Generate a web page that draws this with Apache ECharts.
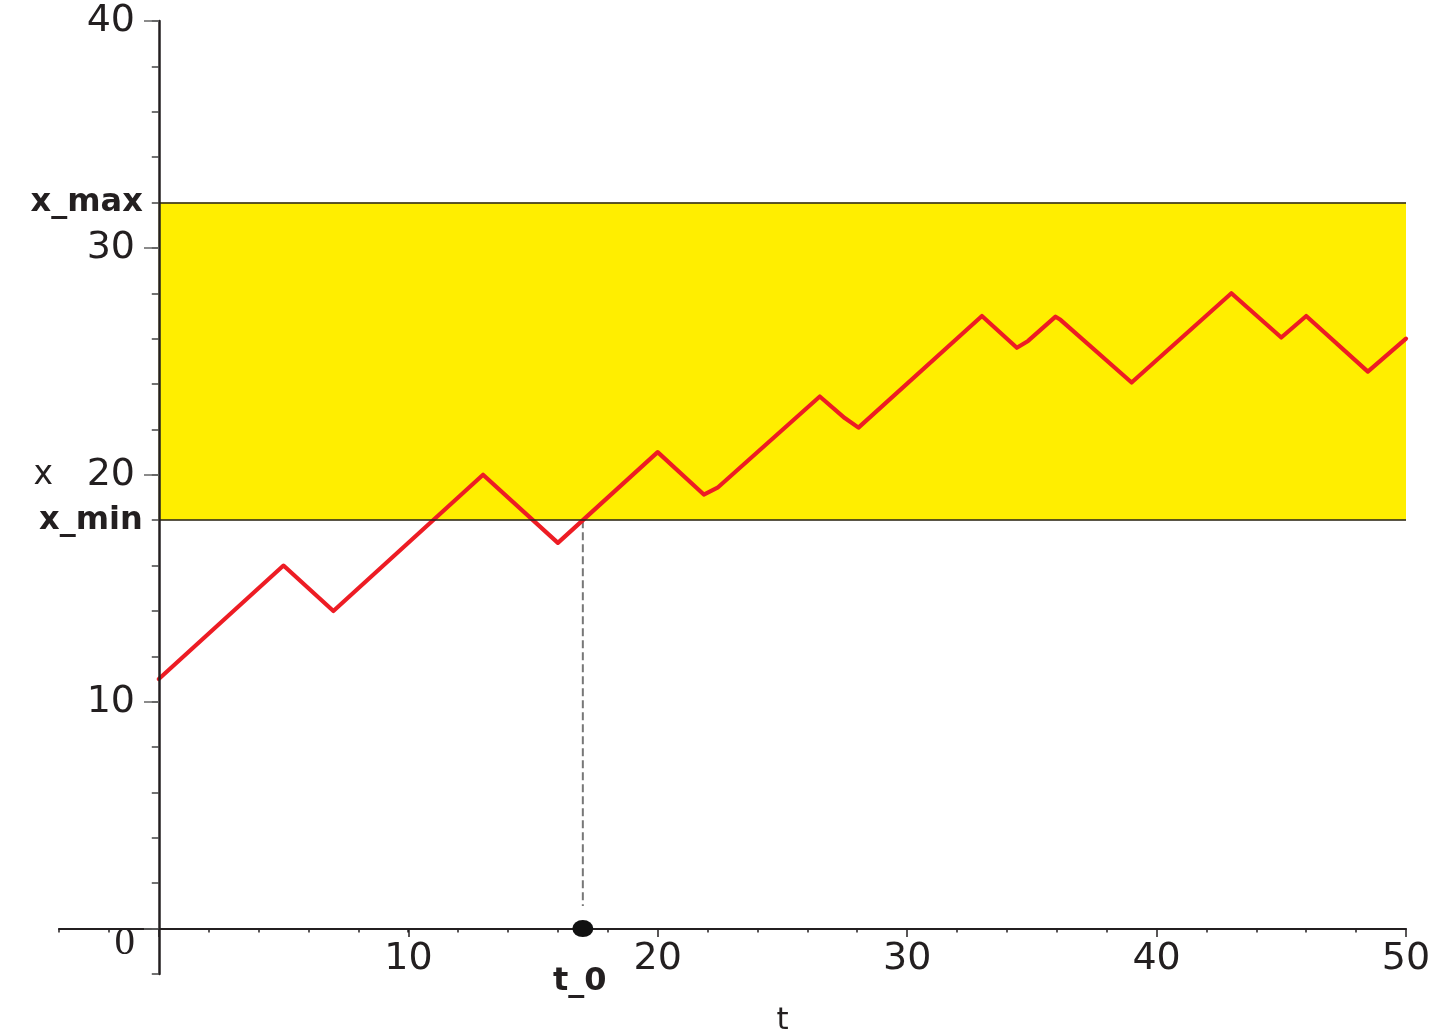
<!DOCTYPE html>
<html>
<head>
<meta charset="utf-8">
<script src="https://cdn.jsdelivr.net/npm/echarts@6/dist/echarts.min.js"></script>
<style>
html,body{margin:0;padding:0;background:#fff;}
#chart{width:1435px;height:1034px;}
</style>
</head>
<body>
<div id="chart"></div>
<script>
// ---- data ----
const tValues = [0, 5, 7, 13, 16, 20, 21.85, 22.4, 26.5, 27.5, 28.05, 33, 34.4, 34.85, 35.95, 36.15, 39, 43, 45, 46, 48.47, 50];
const xValues = [11, 16, 14, 20, 17, 21, 19.13, 19.43, 23.45, 22.5, 22.08, 27, 25.6, 25.9, 26.97, 26.83, 24.07, 28, 26.05, 27, 24.55, 26];
const xMin = 18;
const xMax = 32;
const t0 = 17;
const dashBottom = 1;
const tRange = [-4, 50];
const xRange = [-2, 40];
const bandLabels = ['x_min', 'x_max'];
const t0Label = 't_0';
const axisNames = {t: 't', x: 'x'};

const ink = '#231f20';
const curve = tValues.map((t, i) => [t, xValues[i]]);

const chart = echarts.init(document.getElementById('chart'), null, {renderer: 'canvas'});
const tickFont = {fontFamily: 'DejaVu Sans', fontSize: 38, color: ink};
const boldFont = {fontFamily: 'DejaVu Sans', fontWeight: 'bold', fontSize: 32, color: ink};

const option = {
  animation: false,
  backgroundColor: '#ffffff',
  grid: [
    {left: 59, right: 29, top: 21, bottom: 60, containLabel: false, outerBoundsMode: 'none'},
    {left: 159, right: 29, top: 21, bottom: 105, containLabel: false, outerBoundsMode: 'none'}
  ],
  xAxis: [
    {
      gridIndex: 0, type: 'value', min: tRange[0], max: tRange[1], interval: 2, z: 5,
      axisLine: {onZero: true, lineStyle: {color: ink, width: 2}},
      axisTick: {length: 4, lineStyle: {color: ink, width: 1.5}},
      axisLabel: {show: false}, splitLine: {show: false}
    },
    {
      gridIndex: 1, type: 'value', min: 0, max: tRange[1], interval: 10, z: 5,
      axisLine: {show: false},
      axisTick: {length: 8, lineStyle: {color: ink, width: 1.5}},
      axisLabel: Object.assign({margin: 11, formatter: v => v === 0 ? '' : String(v)}, tickFont),
      splitLine: {show: false},
      name: axisNames.t, nameLocation: 'middle', nameGap: 76,
      nameTextStyle: {fontFamily: 'DejaVu Sans', fontSize: 31, color: ink}
    }
  ],
  yAxis: [
    {
      gridIndex: 0, type: 'value', min: xRange[0], max: xRange[1], interval: 2, z: 5,
      axisLine: {onZero: true, lineStyle: {color: ink, width: 2.5}},
      axisTick: {length: 7, lineStyle: {color: '#444', width: 1.5}},
      axisLabel: {show: false}, splitLine: {show: false}
    },
    {
      gridIndex: 1, type: 'value', min: 0, max: xRange[1], interval: 10, z: 5,
      axisLine: {show: false},
      axisTick: {length: 15, lineStyle: {color: '#666', width: 1.5}},
      axisLabel: Object.assign({
        margin: 24,
        formatter: v => v === 0 ? '{o|0}' : String(v),
        rich: {o: {fontFamily: 'Liberation Serif', fontSize: 41, lineHeight: 41, color: ink, padding: [28, 0, 0, 0]}}
      }, tickFont),
      splitLine: {show: false},
      name: axisNames.x, nameLocation: 'middle', nameGap: 106, nameRotate: 0,
      nameTextStyle: {fontFamily: 'DejaVu Sans', fontSize: 33, color: ink}
    }
  ],
  series: [
    {
      name: 'band', type: 'line', xAxisIndex: 0, yAxisIndex: 0, data: [], z: 1,
      markArea: {
        silent: true,
        itemStyle: {color: '#ffee00'},
        data: [[{xAxis: 0, yAxis: xMin}, {xAxis: tRange[1], yAxis: xMax}]]
      },
      markLine: {
        silent: true, symbol: ['none', 'none'],
        lineStyle: {color: ink, width: 1.5, type: 'solid'},
        label: Object.assign({position: 'start', distance: 16, formatter: '{b}'}, boldFont),
        data: [
          [{name: bandLabels[1], coord: [0, xMax]}, {coord: [tRange[1], xMax]}],
          [{name: bandLabels[0], coord: [0, xMin]}, {coord: [tRange[1], xMin]}]
        ]
      }
    },
    {
      name: 'dash', type: 'line', xAxisIndex: 0, yAxisIndex: 0, z: 3,
      data: [[t0, xMin], [t0, dashBottom]], symbol: 'none',
      lineStyle: {color: '#777', width: 2, type: [8, 4]}
    },
    {
      name: 'x(t)', type: 'line', xAxisIndex: 0, yAxisIndex: 0, z: 4,
      data: curve, symbol: 'none',
      lineStyle: {color: '#ed1c24', width: 4.2, join: 'round', cap: 'round'}
    },
    {
      name: 't0', type: 'scatter', xAxisIndex: 0, yAxisIndex: 0, z: 6,
      data: [[t0, 0]], symbol: 'circle', symbolSize: [21, 17],
      itemStyle: {color: '#111', opacity: 1},
      label: Object.assign({show: true, position: 'bottom', distance: 29, offset: [-3, 0], formatter: t0Label}, boldFont)
    }
  ]
};
chart.setOption(option);
</script>
</body>
</html>
